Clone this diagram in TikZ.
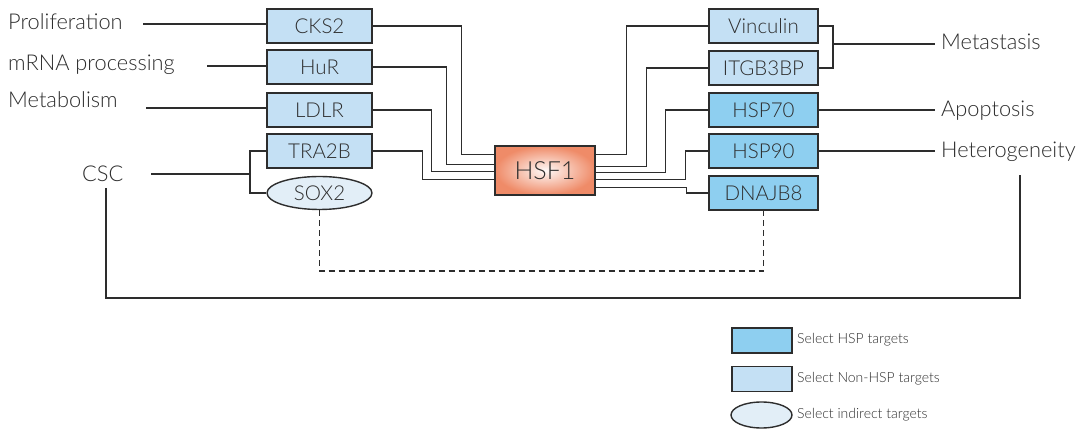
\documentclass[tikz,border=0pt]{standalone}
\usepackage{fontspec}
\setmainfont{Lato Light}
\usetikzlibrary{shapes.geometric,calc}
\definecolor{hspblue}{RGB}{142,207,240}
\definecolor{nonhsp}{RGB}{196,224,244}
\definecolor{indirect}{RGB}{226,238,247}
\definecolor{hsforange}{RGB}{239,139,104}
\definecolor{ln}{RGB}{45,45,45}
\tikzset{
  conn/.style={draw=ln,line width=1.3pt},
  gbox/.style={draw=ln,line width=1.4pt,rectangle,inner sep=0pt,text=ln,font=\fontsize{20.5}{22}\selectfont},
  nbox/.style={gbox,fill=nonhsp,minimum width=105pt,minimum height=34pt},
  hbox/.style={gbox,fill=hspblue,minimum width=109pt,minimum height=34pt},
  rnbox/.style={gbox,fill=nonhsp,minimum width=109pt,minimum height=34pt},
  ibox/.style={gbox,ellipse,fill=indirect,minimum width=105pt,minimum height=33pt},
  lbl/.style={anchor=base west,inner sep=0pt,text=ln,font=\fontsize{21.8}{24}\selectfont},
  leg/.style={anchor=west,inner sep=0pt,text=ln,font=\fontsize{14}{16}\selectfont},
}
\begin{document}
\begin{tikzpicture}[x=1pt,y=-1pt]
\useasboundingbox (0,0) rectangle (1090,435);
% left boxes
\node[nbox] (cks2) at (319.5,26) {CKS2};
\node[nbox] (hur) at (319.5,67) {HuR};
\node[nbox] (ldlr) at (319.5,110) {LDLR};
\node[nbox] (tra2b) at (319.5,151) {TRA2B};
\node[ibox] (sox2) at (319.5,193) {SOX2};
% centre
\node[gbox,minimum width=100pt,minimum height=49pt,inner color=hsforange!5,outer color=hsforange,font=\fontsize{25}{28}\selectfont] (hsf1) at (545,170.5) {HSF1};
% right boxes
\node[rnbox] (vinc) at (763.5,26) {Vinculin};
\node[rnbox] (itgb) at (763.5,68) {ITGB3BP};
\node[hbox] (hsp70) at (763.5,110) {HSP70};
\node[hbox] (hsp90) at (763.5,151) {HSP90};
\node[hbox] (dnajb8) at (763.5,193) {DNAJB8};
% labels
\node[lbl] (prolif) at (8,30) {Proliferation};
\node[lbl] (mrna) at (8,71) {mRNA processing};
\node[lbl] (metab) at (8,108) {Metabolism};
\node[lbl] (csc) at (82,182) {CSC};
\node[lbl] (metas) at (941,50) {Metastasis};
\node[lbl] (apop) at (941,117) {Apoptosis};
\node[lbl] (hetero) at (941,158) {Heterogeneity};
% free ends
\coordinate (pA) at (143,24);
\coordinate (mA) at (207,66);
\coordinate (bA) at (146,108);
\coordinate (cA) at (151,174);
\coordinate (cB) at (250,174);
\coordinate (mtA) at (935,44);
\coordinate (brk) at (833,44);
\coordinate (apA) at (935,110);
\coordinate (htA) at (935,151);
\coordinate (cscDown) at (106,188);
\coordinate (hetDown) at (1020,175);
% label connectors
\draw[conn] (pA) -- (pA -| cks2.west);
\draw[conn] (mA) -- (mA -| hur.west);
\draw[conn] (bA) -- (bA -| ldlr.west);
\draw[conn] (cA) -- (cB);
\draw[conn] (tra2b.west) -- (tra2b.west -| cB) -- (sox2.west -| cB) -- (sox2.west);
% left to HSF1
\draw[conn] (cks2.east) -- ++(89,0) |- ($(hsf1.north west)+(0,9.5)$);
\draw[conn] (hur.east) -- ++(73.5,0) |- ($(hsf1.north west)+(0,19.5)$);
\draw[conn] (ldlr.east) -- ++(58.5,0) |- ($(hsf1.north west)+(0,26)$);
\draw[conn] (tra2b.east) -- ++(50,0) |- ($(hsf1.north west)+(0,34)$);
% HSF1 to right
\draw[conn] ($(hsf1.north east)+(0,9.5)$) -| ($(vinc.west)+(-82,0)$) -- (vinc.west);
\draw[conn] ($(hsf1.north east)+(0,21)$) -| ($(itgb.west)+(-62,0)$) -- (itgb.west);
\draw[conn] ($(hsf1.north east)+(0,27)$) -| ($(hsp70.west)+(-43,0)$) -- (hsp70.west);
\draw[conn] ($(hsf1.north east)+(0,34)$) -| ($(hsp90.west)+(-23,0)$) -- (hsp90.west);
\draw[conn] ($(hsf1.north east)+(0,42)$) -| ($(dnajb8.west)+(-22,0)$) -- (dnajb8.west);
% right to labels
\draw[conn] (vinc.east) -| (brk) |- (itgb.east);
\draw[conn] (brk) -- (mtA);
\draw[conn] (hsp70.east) -- (apA);
\draw[conn] (hsp90.east) -- (htA);
% dashed
\draw[conn,dash pattern=on 6pt off 4pt] (sox2.south) -- (sox2.south |- 0,271) -| (dnajb8.south);
% bottom loop
\draw[conn] (cscDown) -- (cscDown |- 0,298) -| (hetDown);
% legend
\node[gbox,fill=hspblue,minimum width=60pt,minimum height=25pt] (lg1) at (762,340.5) {};
\node[gbox,fill=nonhsp,minimum width=60pt,minimum height=25pt] (lg2) at (762,379) {};
\node[gbox,ellipse,fill=indirect,minimum width=61pt,minimum height=26pt] (lg3) at (761.5,415) {};
\node[leg] (lt1) at (797,340) {Select HSP targets};
\node[leg] (lt2) at (797,379) {Select Non-HSP targets};
\node[leg] (lt3) at (797,415) {Select indirect targets};
\end{tikzpicture}
\end{document}
